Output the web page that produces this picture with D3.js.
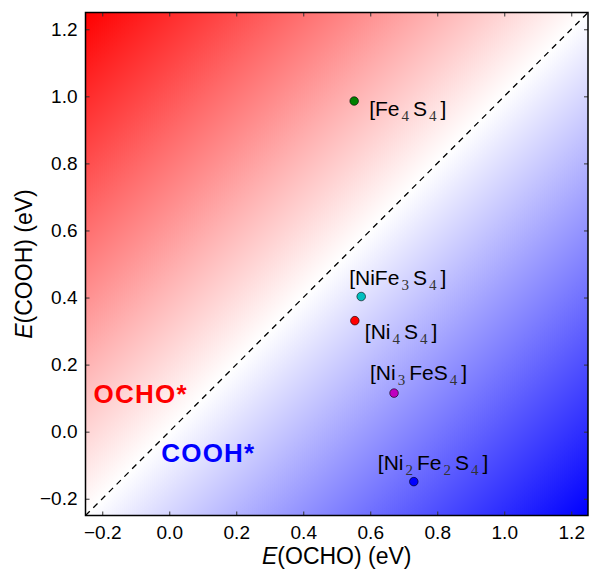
<!DOCTYPE html>
<html>
<head>
<meta charset="utf-8">
<script src="https://cdn.jsdelivr.net/npm/d3@7.9.0/dist/d3.min.js"></script>
<style>
  body { margin: 0; background: #fff; }
  text { font-family: "Liberation Sans", Arial, sans-serif; }
</style>
</head>
<body>
<svg id="chart" width="590" height="569"></svg>
<script>
// data
const clusters = ["Fe4S4", "NiFe3S4", "Ni4S4", "Ni3FeS4", "Ni2Fe2S4"];
const eOCHO = [0.552, 0.573, 0.554, 0.671, 0.730];
const eCOOH = [0.986, 0.403, 0.331, 0.115, -0.149];
const colors = ["#008000", "#00bfbf", "#ff0000", "#bf00bf", "#0000ff"];
// label parts: [text, isSubscript]
const labelParts = [
  [["[Fe", 0], ["4", 1], ["S", 0], ["4", 1], ["]", 0]],
  [["[NiFe", 0], ["3", 1], ["S", 0], ["4", 1], ["]", 0]],
  [["[Ni", 0], ["4", 1], ["S", 0], ["4", 1], ["]", 0]],
  [["[Ni", 0], ["3", 1], ["FeS", 0], ["4", 1], ["]", 0]],
  [["[Ni", 0], ["2", 1], ["Fe", 0], ["2", 1], ["S", 0], ["4", 1], ["]", 0]]
];
// label offsets in px relative to point
const labelDx = [15, -12, 10, -24, -36];
const labelDy = [15, -12, 18, -13, -12];
const ticks = [-0.2, 0.0, 0.2, 0.4, 0.6, 0.8, 1.0, 1.2];
const domain = [-0.25, 1.25];

const svg = d3.select("#chart");
const margin = { left: 85.5, top: 12.5, right: 2, bottom: 53.5 };
const w = 590 - margin.left - margin.right;
const h = 569 - margin.top - margin.bottom;

const x = d3.scaleLinear().domain(domain).range([0, w]);
const y = d3.scaleLinear().domain(domain).range([h, 0]);

const defs = svg.append("defs");
const grad = defs.append("linearGradient")
  .attr("id", "bwr")
  .attr("x1", 0).attr("y1", 0).attr("x2", 1).attr("y2", 1);
grad.append("stop").attr("offset", "0%").attr("stop-color", "#ff0000");
grad.append("stop").attr("offset", "50%").attr("stop-color", "#ffffff");
grad.append("stop").attr("offset", "100%").attr("stop-color", "#0000ff");

const g = svg.append("g").attr("transform", `translate(${margin.left},${margin.top})`);

g.append("rect")
  .attr("width", w).attr("height", h)
  .attr("fill", "url(#bwr)");

// parity line
g.append("line")
  .attr("x1", x(domain[0])).attr("y1", y(domain[0]))
  .attr("x2", x(domain[1])).attr("y2", y(domain[1]))
  .attr("stroke", "#000")
  .attr("stroke-width", 1.3)
  .attr("stroke-dasharray", "6,5");

// region labels
g.append("text")
  .attr("x", x(-0.226)).attr("y", y(0.084))
  .attr("fill", "#ff0000")
  .attr("font-weight", "bold")
  .attr("font-size", 26)
  .attr("textLength", 93)
  .text("OCHO*");
g.append("text")
  .attr("x", x(-0.024)).attr("y", y(-0.089))
  .attr("fill", "#0000ff")
  .attr("font-weight", "bold")
  .attr("font-size", 26)
  .attr("textLength", 93)
  .text("COOH*");

// points
g.selectAll("circle.pt")
  .data(clusters)
  .enter()
  .append("circle")
  .attr("class", "pt")
  .attr("cx", (d, i) => x(eOCHO[i]))
  .attr("cy", (d, i) => y(eCOOH[i]))
  .attr("r", 4.3)
  .attr("fill", (d, i) => colors[i])
  .attr("stroke", "#000")
  .attr("stroke-width", 0.6);

// labels with serif subscripts
clusters.forEach((c, i) => {
  const t = g.append("text")
    .attr("x", x(eOCHO[i]) + labelDx[i])
    .attr("y", y(eCOOH[i]) + labelDy[i])
    .attr("font-size", 21)
    .attr("fill", "#000");
  let shifted = false;
  labelParts[i].forEach(([s, sub]) => {
    const sp = t.append("tspan").text(s);
    if (sub) {
      sp.attr("font-family", "'Liberation Serif', 'DejaVu Serif', serif")
        .attr("font-size", 15)
        .attr("fill", "#333")
        .attr("dy", shifted ? 0 : 5)
        .attr("dx", 2);
      shifted = true;
    } else {
      sp.attr("dy", shifted ? -5 : 0).attr("dx", shifted ? 4 : 0);
      shifted = false;
    }
  });
});

// axes: ticks inward on all sides
const fmt = d3.format(".1f");
const tickLen = 4;
g.append("g")
  .attr("transform", `translate(0,${h})`)
  .call(d3.axisBottom(x).tickValues(ticks).tickFormat(fmt).tickSizeInner(-tickLen).tickSizeOuter(0).tickPadding(10))
  .call(a => a.select(".domain").remove())
  .call(a => a.selectAll("text").attr("font-size", 19).attr("font-family", "'Liberation Sans', Arial, sans-serif"));
g.append("g")
  .call(d3.axisLeft(y).tickValues(ticks).tickFormat(fmt).tickSizeInner(-tickLen).tickSizeOuter(0).tickPadding(8))
  .call(a => a.select(".domain").remove())
  .call(a => a.selectAll("text").attr("font-size", 19).attr("font-family", "'Liberation Sans', Arial, sans-serif"));
g.append("g")
  .call(d3.axisTop(x).tickValues(ticks).tickFormat("").tickSizeInner(-tickLen).tickSizeOuter(0))
  .call(a => a.select(".domain").remove());
g.append("g")
  .attr("transform", `translate(${w},0)`)
  .call(d3.axisRight(y).tickValues(ticks).tickFormat("").tickSizeInner(-tickLen).tickSizeOuter(0))
  .call(a => a.select(".domain").remove());
g.selectAll(".tick line").attr("stroke", "#333");

// frame
g.append("rect")
  .attr("width", w).attr("height", h)
  .attr("fill", "none")
  .attr("stroke", "#000")
  .attr("stroke-width", 1.5);

// axis titles
const xt = svg.append("text")
  .attr("x", margin.left + w / 2)
  .attr("y", 564)
  .attr("text-anchor", "middle")
  .attr("font-size", 23);
xt.append("tspan").attr("font-style", "italic").text("E");
xt.append("tspan").text("(OCHO) (eV)");

const yt = svg.append("text")
  .attr("transform", `translate(32,${margin.top + h / 2}) rotate(-90)`)
  .attr("text-anchor", "middle")
  .attr("font-size", 23);
yt.append("tspan").attr("font-style", "italic").text("E");
yt.append("tspan").text("(COOH) (eV)");
</script>
</body>
</html>
